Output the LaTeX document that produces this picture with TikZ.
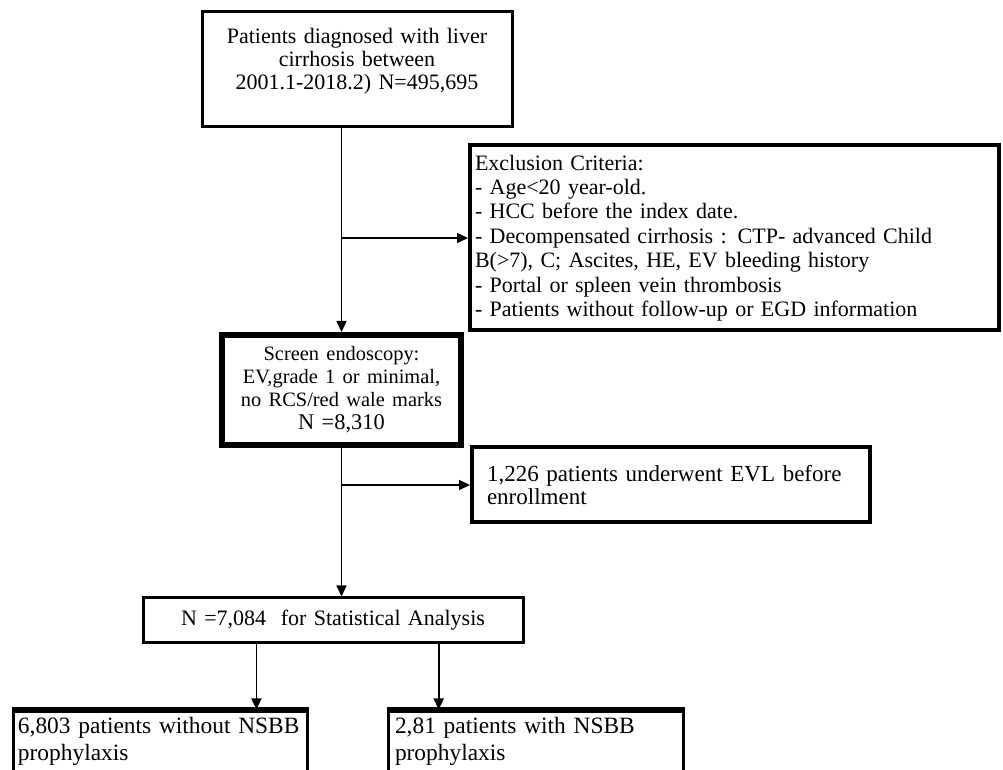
\documentclass[tikz,border=0pt]{standalone}
\usepackage{fontspec}
\setmainfont{Liberation Serif}
\usetikzlibrary{arrows.meta}
\usetikzlibrary{calc}

\tikzset{
	flowbox/.style={draw=black, line width=1.5pt, inner sep=0pt, font=\fontsize{11pt}{11.5pt}\selectfont},
	flowarrow/.style={black, line width=0.8pt, -{Triangle[length=5.5pt,width=5pt]}}
}

\begin{document}
\begin{tikzpicture}[x=0.5pt, y=-0.5pt]
	\useasboundingbox (0,0) rectangle (1003,770);
	\clip (0,0) rectangle (1003,770);
	\node[flowbox, minimum width=155pt, minimum height=57.5pt, text width=145pt, align=center] (cohort) at (357,69.5) {Patients diagnosed with liver\\cirrhosis between\\2001.1-2018.2) N=495,695\vspace{8pt}};
	\node[flowbox, line width=2pt, minimum width=264.5pt, minimum height=92.5pt, text width=259.5pt, align=left, font=\fontsize{11pt}{12.2pt}\selectfont] (excl) at (734.5,238) {Exclusion Criteria:\\- Age<20 year-old.\\- HCC before the index date.\\- Decompensated cirrhosis : CTP- advanced Child\\B(>7), C; Ascites, HE, EV bleeding history\\- Portal or spleen vein thrombosis\\- Patients without follow-up or EGD information};
	\node[flowbox, line width=3pt, minimum width=119.5pt, minimum height=55pt, text width=115pt, align=center] (screen) at (341.5,390) {{\fontsize{10.2pt}{11pt}\selectfont Screen endoscopy:}\\{\fontsize{10.2pt}{11pt}\selectfont EV,grade 1 or minimal,}\\{\fontsize{10.2pt}{11pt}\selectfont no RCS/red wale marks}\\{\fontsize{11.2pt}{12.5pt}\selectfont N =8,310}};
	\node[flowbox, line width=2pt, minimum width=199pt, minimum height=37.5pt, text width=184pt, align=left, font=\fontsize{11.5pt}{11.5pt}\selectfont] (evl) at (671,485) {1,226 patients underwent EVL before\\enrollment};
	\node[flowbox, minimum width=190pt, minimum height=22.5pt, text width=180pt, align=center] (stat) at (333,620.5) {N =7,084\ \ for Statistical Analysis};
	\node[flowbox, minimum width=147pt, minimum height=30pt, text width=142pt, align=left, font=\fontsize{11.7pt}{13.5pt}\selectfont] (nonsbb) at (160,741) {6,803 patients without NSBB\\prophylaxis};
	\node[flowbox, minimum width=147.5pt, minimum height=30pt, text width=140.5pt, align=left, font=\fontsize{11.7pt}{13.5pt}\selectfont] (withnsbb) at (535.5,741) {2,81 patients with NSBB\\prophylaxis};
	\draw[line width=2.5pt] (nonsbb.north west) -- (nonsbb.north east);
	\draw[line width=2.5pt] (withnsbb.north west) -- (withnsbb.north east);
	\draw[flowarrow] (cohort.south -| screen.north) -- (screen.north);
	\draw[flowarrow] (excl.west -| screen.north) -- (excl.west);
	\draw[flowarrow] (screen.south) -- (screen.south |- stat.north);
	\draw[flowarrow] (evl.west -| screen.south) -- (evl.west);
	\coordinate (splitL) at ($(stat.south west)!0.3!(stat.south east)$);
	\coordinate (splitR) at ($(stat.south west)!0.776!(stat.south east)$);
	\draw[flowarrow] (splitL) -- (splitL |- nonsbb.north);
	\draw[flowarrow] (splitR) -- (splitR |- withnsbb.north);
\end{tikzpicture}
\end{document}
